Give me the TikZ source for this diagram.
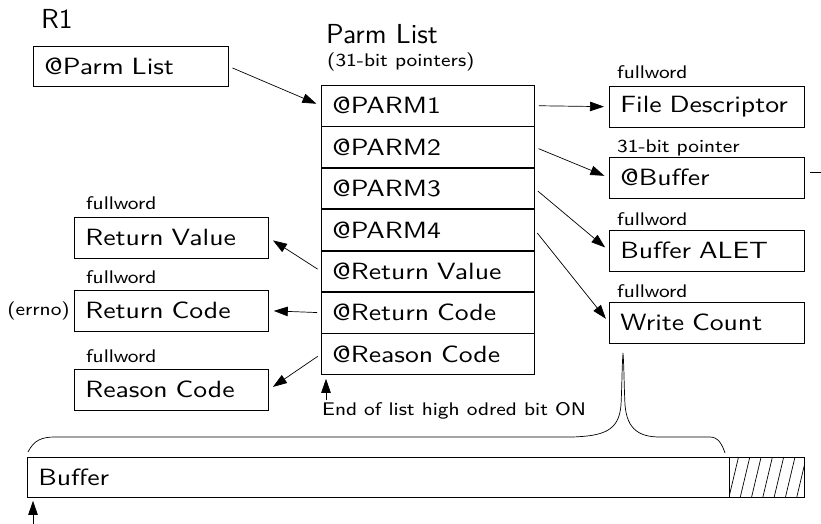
\documentclass[tikz,border=0pt]{standalone}
\usepackage{fontspec}
\usetikzlibrary{arrows.meta,calc}
\newfontfamily\normfont{lmsans10-regular}[Extension=.otf, FakeStretch=1.18]
\newfontfamily\smfont{lmsans8-regular}[Extension=.otf, FakeStretch=1.1]
\newfontfamily\bigfont{lmsans10-regular}[Extension=.otf]
\begin{document}
\begin{tikzpicture}[x=1pt,y=-1pt,
  font=\normfont\fontsize{23.5}{28}\selectfont,
  box/.style={draw, line width=0.8pt, rectangle, anchor=north west, minimum height=40.6pt, inner xsep=11pt, inner ysep=0pt, align=left},
  lbl/.style={anchor=base west, inner sep=0pt, font=\smfont\fontsize{18.3}{21}\selectfont},
  big/.style={anchor=base west, inner sep=0pt, font=\bigfont\fontsize{27.5}{32}\selectfont},
  arr/.style={-{Triangle[length=14pt,width=9.5pt]}, line width=0.7pt, shorten <=4pt, shorten >=5pt},
  thin/.style={line width=0.7pt}]
\useasboundingbox (0,0) rectangle (821,524);

% R1
\node[big] (r1) at (41,29) {R1};
\node[box, text width=173pt, minimum height=40pt] (pl) at (33,46) {@Parm List};

% Parm list title
\node[big] (title) at (326,44) {Parm List};
\node[lbl] (sub) at (327,67) {(31-bit pointers)};

% Parm list rows
\node[box, text width=191pt] (p1) at (321,85) {@PARM1};
\node[box, text width=191pt] (p2) at (p1.south west) {@PARM2};
\node[box, text width=191pt] (p3) at (p2.south west) {@PARM3};
\node[box, text width=191pt] (p4) at (p3.south west) {@PARM4};
\node[box, text width=191pt] (p5) at (p4.south west) {@Return Value};
\node[box, text width=191pt] (p6) at (p5.south west) {@Return Code};
\node[box, text width=191pt] (p7) at (p6.south west) {@Reason Code};

% right boxes
\node[lbl] (l1) at (617,79) {fullword};
\node[box, text width=173pt] (fd) at (609,86) {File Descriptor};
\node[lbl] (l2) at (617,152) {31-bit pointer};
\node[box, text width=173pt] (ab) at (609,157) {@Buffer};
\node[lbl] (l3) at (617,225) {fullword};
\node[box, text width=173pt] (al) at (609,230) {Buffer ALET};
\node[lbl] (l4) at (617,297) {fullword};
\node[box, text width=173pt] (wc) at (609,302) {Write Count};

% left boxes
\node[lbl] (l5) at (86,209) {fullword};
\node[box, text width=172pt] (rv) at (74,217) {Return Value};
\node[lbl] (l6) at (86,283) {fullword};
\node[box, text width=172pt] (rc) at (74,290) {Return Code};
\node[lbl] (l7) at (86,362) {fullword};
\node[box, text width=172pt] (rs) at (74,369) {Reason Code};
\node[anchor=east, inner sep=0pt, font=\smfont\fontsize{18.3}{21}\selectfont] (errno) at (70,310.5) {(errno)};

% arrows
\draw[arr] (pl.east) -- (p1.west);
\draw[arr] (p1.east) -- (fd.west);
\draw[arr] (p2.east) -- (ab.west);
\draw[arr] (p3.east) -- (al.west);
\draw[arr] (p4.east) -- (wc.west);
\draw[arr] (p5.west) -- (rv.east);
\draw[arr] (p6.west) -- (rc.east);
\draw[arr] (p7.west) -- (rs.east);
\draw[thin] ([xshift=5pt,yshift=5.5pt]ab.east) -- ++(12,0);

% end of list
\node[lbl] (eol) at (322,415) {End of list high odred bit ON};
\coordinate (eolt) at (326,400);
\draw[arr, shorten <=0pt, shorten >=4pt] (eolt) -- (eolt |- p7.south);

% buffer
\node[box, text width=755pt, minimum height=40pt, anchor=north west] (buf) at (27,457) {Buffer};
\draw[thin] (729,457) -- (729,497);
\begin{scope}
\clip (729,457) rectangle (804,497);
\foreach \k in {0,...,7} {
  \draw[thin] (729+11.3*\k,497) -- (738.5+11.3*\k,457);
}
\end{scope}
\coordinate (bufarr) at (33,524);
\draw[arr, shorten <=0pt, shorten >=3pt] (bufarr) -- (bufarr |- buf.south);

% brace
\coordinate (tip) at (623,353);
\draw[thin] (28,452) .. controls (34,440) and (42,437) .. (55,437)
  -- (572,437) .. controls (605,436) and (619,430) .. (621,405)
  .. controls (622,385) and (622,365) .. (tip)
  .. controls (624,365) and (624,385) .. (625,405)
  .. controls (627,430) and (640,437) .. (660,437)
  -- (710,437) .. controls (718,437) and (722,444) .. (725,453);
\end{tikzpicture}
\end{document}
